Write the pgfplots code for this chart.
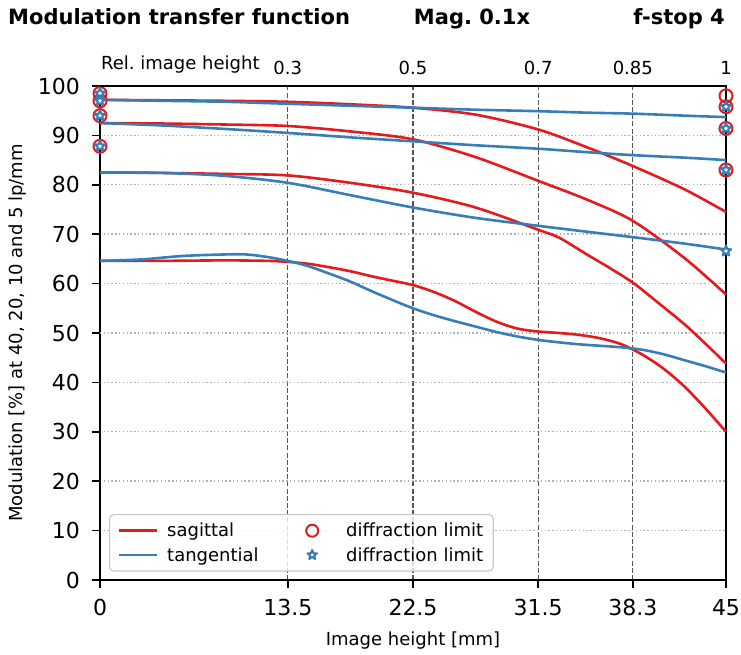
\documentclass[border=0pt]{standalone}
\usepackage{fontspec}
\setmainfont{DejaVu Sans}
\usepackage{pgfplots}
\pgfplotsset{compat=1.18}
\frenchspacing
\definecolor{sred}{HTML}{E41A1C}
\definecolor{tblue}{HTML}{377EB8}
\definecolor{gridd}{HTML}{555555}
\definecolor{gridl}{HTML}{B0B0B0}
\newcommand\tickfont{\fontsize{22}{26}\selectfont}
\newcommand\labfont{\fontsize{18}{21}\selectfont}
\newcommand\titfont{\fontsize{21}{25}\selectfont\bfseries}
\pgfdeclareplotmark{pstar}{%
  \pgfpathmoveto{\pgfpointpolar{90}{\pgfplotmarksize}}%
  \pgfpathlineto{\pgfpointpolar{126}{0.42*\pgfplotmarksize}}%
  \pgfpathlineto{\pgfpointpolar{162}{\pgfplotmarksize}}%
  \pgfpathlineto{\pgfpointpolar{198}{0.42*\pgfplotmarksize}}%
  \pgfpathlineto{\pgfpointpolar{234}{\pgfplotmarksize}}%
  \pgfpathlineto{\pgfpointpolar{270}{0.42*\pgfplotmarksize}}%
  \pgfpathlineto{\pgfpointpolar{306}{\pgfplotmarksize}}%
  \pgfpathlineto{\pgfpointpolar{342}{0.42*\pgfplotmarksize}}%
  \pgfpathlineto{\pgfpointpolar{18}{\pgfplotmarksize}}%
  \pgfpathlineto{\pgfpointpolar{54}{0.42*\pgfplotmarksize}}%
  \pgfpathclose
  \pgfusepathqfillstroke}
\pgfplotsset{
  lineleg/.style={legend image code/.code={\draw[##1] (0pt,0pt) -- (38pt,0pt);}},
  markleg/.style={legend image code/.code={\path[draw=none,fill=none] (0pt,-1pt) rectangle (44pt,1pt); \draw[##1, mark repeat=2, mark phase=2] plot coordinates {(0pt,0pt) (19pt,0pt) (38pt,0pt)};}},
  crv/.style={line width=2.6pt, smooth, forget plot},
}
\begin{document}
\begin{tikzpicture}
\useasboundingbox (0,0) rectangle (741pt,655pt);
\node[anchor=base west, inner sep=0pt, font=\titfont] at (8pt,630pt) {Modulation transfer function};
\node[anchor=base, inner sep=0pt, font=\titfont] at (472pt,630pt) {Mag. 0.1x};
\node[anchor=base east, inner sep=0pt, font=\titfont] at (725pt,630pt) {f-stop 4};
\node[anchor=base west, inner sep=0pt, font=\labfont] at (101pt,585pt) {Rel. image height};
\begin{axis}[
  at={(100pt,75pt)}, anchor=south west,
  scale only axis, width=626pt, height=494pt,
  xmin=0, xmax=45, ymin=0, ymax=100,
  xtick={0,13.5,22.5,31.5,38.3,45},
  xticklabels={0,13.5,22.5,31.5,38.3,45},
  ytick={0,10,...,100},
  tick pos=left, tick align=outside,
  major tick length=8pt,
  every tick/.style={black, line width=1.5pt},
  axis line style={black, line width=1.8pt},
  ticklabel style={font=\tickfont},
  /pgf/number format/assume math mode=true,
  yticklabel style={anchor=east, inner sep=0pt, xshift=-12pt},
  xticklabel style={anchor=north, inner sep=0pt, yshift=-11pt},
  xmajorgrids, ymajorgrids,
  x grid style={gridd, line width=1.3pt, dash pattern=on 5pt off 2.2pt},
  y grid style={gridl, line width=1.4pt, dash pattern=on 1.4pt off 2.4pt},
  extra y ticks={50}, extra y tick labels={},
  extra y tick style={grid=major, major grid style={gridd, line width=1.3pt, dash pattern=on 5pt off 2.2pt}, major tick length=0pt},
  xlabel={Image height [mm]},
  ylabel={Modulation [\%] at 40, 20, 10 and 5 lp/mm},
  label style={font=\labfont},
  xlabel style={at={(axis description cs:0.5,-0.122)}, anchor=center},
  ylabel style={at={(axis description cs:-0.131,0.5)}, anchor=center},
  clip=false,
  legend columns=2,
  legend cell align=left,
  legend style={at={(0.0144,0.017)}, anchor=south west, draw=gridl!70, line width=1.2pt,
    rounded corners=4pt, fill=white, fill opacity=0.8, text opacity=1, draw opacity=1,
    font=\labfont, inner xsep=8pt, inner ysep=6.5pt, row sep=5pt, column sep=0pt,
    /tikz/every odd column/.append style={column sep=7pt},
    /tikz/every even column/.append style={column sep=32.5pt}},
]
\addlegendimage{sred, line width=2.6pt, lineleg}
\addlegendentry{sagittal}
\addlegendimage{only marks, mark=o, mark size=6pt, sred, mark options={line width=2pt}, markleg}
\addlegendentry{diffraction limit}
\addlegendimage{tblue, line width=2.6pt, lineleg}
\addlegendentry{tangential}
\addlegendimage{only marks, mark=pstar, mark size=5pt, tblue, mark options={line width=2pt, fill=white, line join=round}, markleg}
\addlegendentry{diffraction limit}

\addplot[sred, crv] coordinates {(0,97.2) (4.5,97.1) (9,97.0) (13.5,96.8) (18,96.3) (22.5,95.6) (27,94.2) (31.5,91.2) (35,87.6) (38.3,83.8) (42,79.1) (45,74.5)};
\addplot[tblue, crv] coordinates {(0,97.2) (4.5,97.0) (9,96.8) (13.5,96.4) (18,96.0) (22.5,95.6) (27,95.2) (31.5,94.9) (35,94.6) (38.3,94.4) (42,94.0) (45,93.7)};
\addplot[sred, crv] coordinates {(0,92.5) (4.5,92.4) (9,92.2) (13.5,91.9) (18,90.8) (22.5,89.2) (27,85.6) (31.5,80.8) (35,77.0) (38.3,72.7) (42,65.2) (45,57.8)};
\addplot[tblue, crv] coordinates {(0,92.5) (4.5,92.0) (9,91.3) (13.5,90.5) (18,89.6) (22.5,88.8) (27,88.0) (31.5,87.3) (35,86.6) (38.3,86.0) (42,85.5) (45,85.0)};
\addplot[sred, crv] coordinates {(0,82.5) (4.5,82.4) (9,82.2) (13.5,81.9) (18,80.4) (22.5,78.4) (27,75.4) (31.5,70.9) (33,69.3) (35,65.9) (36.5,63.4) (38.3,60.2) (40,56.4) (42,51.8) (43.5,47.9) (45,43.8)};
\addplot[tblue, crv] coordinates {(0,82.5) (4.5,82.4) (9,81.8) (13.5,80.4) (18,77.9) (22.5,75.4) (27,73.3) (31.5,71.7) (35,70.5) (38.3,69.4) (42,68.1) (45,66.9)};
\addplot[sred, crv] coordinates {(0,64.6) (4.5,64.6) (9,64.7) (12,64.6) (13.5,64.4) (15,64.0) (16.5,63.3) (18,62.5) (19.5,61.5) (21,60.6) (22.5,59.7) (24,58.3) (25.5,56.5) (27,54.3) (28.5,52.3) (30,50.9) (31.5,50.3) (33,50.0) (34.5,49.6) (36,48.9) (37.5,47.7) (39,45.6) (40.5,42.8) (42,39.2) (43.5,34.8) (45,30.0)};
\addplot[tblue, crv] coordinates {(0,64.6) (3,64.9) (6,65.6) (9,65.9) (10.5,65.9) (12,65.4) (13.5,64.6) (15,63.5) (16.5,62.0) (18,60.4) (19.5,58.5) (21,56.7) (22.5,55.0) (24,53.6) (25.5,52.4) (27,51.3) (28.5,50.2) (30,49.3) (31.5,48.6) (33,48.1) (34.5,47.7) (36,47.4) (37.5,47.1) (39,46.6) (40.5,45.7) (42,44.5) (43.5,43.3) (45,42.0)};

\addplot[only marks, mark=o, mark size=6.5pt, sred, mark options={line width=2pt}, forget plot] coordinates {(0,98.5) (0,97.0) (0,94.0) (0,87.8) (45,98.0) (45,95.8) (45,91.4) (45,83.0)};
\addplot[only marks, mark=pstar, mark size=5.5pt, tblue, mark options={line width=2pt, fill=white, line join=round}, forget plot] coordinates {(0,98.5) (0,97.0) (0,94.0) (0,87.8) (45,95.8) (45,91.4) (45,83.0) (45,66.6)};
\end{axis}
\begin{axis}[
  at={(100pt,75pt)}, anchor=south west,
  scale only axis, width=626pt, height=494pt,
  xmin=0, xmax=45, ymin=0, ymax=100,
  axis x line*=top, hide y axis,
  axis line style={black, line width=1.8pt},
  xtick={13.5,22.5,31.5,38.3,45},
  xticklabels={0.3,0.5,0.7,0.85,1},
  major tick length=0pt,
  xticklabel style={font=\labfont, anchor=base, inner sep=0pt, yshift=11pt},
]
\end{axis}
\end{tikzpicture}
\end{document}
